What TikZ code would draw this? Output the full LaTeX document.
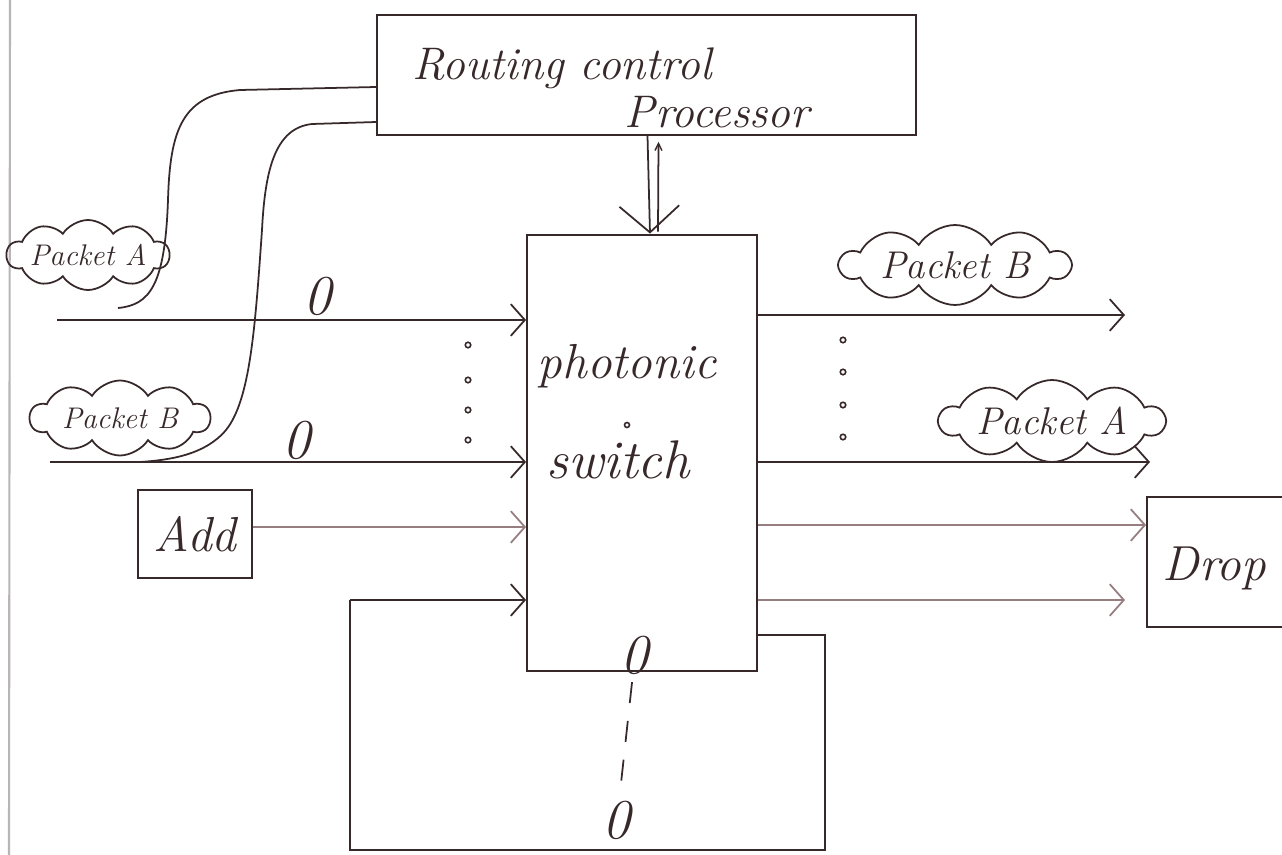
\documentclass[tikz,border=0pt]{standalone}
\usetikzlibrary{arrows.meta,shapes.symbols,calc}
\definecolor{ink}{RGB}{55,40,42}
\definecolor{faint}{RGB}{150,125,128}
\definecolor{margin}{RGB}{185,180,182}
\begin{document}
\begin{tikzpicture}[x=0.02cm,y=-0.02cm, line width=1pt, draw=ink, text=ink,
  box/.style={draw=ink, line width=1.1pt, inner sep=0pt, rectangle},
  wire/.style={draw=ink, line width=1pt},
  lightwire/.style={draw=faint, line width=1pt},
  chev/.style={-{Straight Barb[length=8pt,width=18pt,line width=1pt]}},
  bigv/.style={-{Straight Barb[length=15pt,width=34pt,line width=1pt]}},
  smallup/.style={-{Straight Barb[length=4pt,width=4pt,line width=0.8pt]}},
  puff/.style={cloud, cloud puffs=10, cloud puff arc=115, draw=ink, line width=1pt, inner sep=0pt, cloud ignores aspect},
  big/.style={font=\fontsize{28}{32}\selectfont\itshape},
  head/.style={font=\fontsize{26}{30}\selectfont\itshape, inner sep=1pt},
  mid/.style={font=\fontsize{22}{26}\selectfont\itshape},
  small/.style={font=\fontsize{17}{20}\selectfont\itshape},
  zero/.style={font=\fontsize{32}{36}\selectfont\itshape, inner sep=0pt},
  dotmark/.style={circle, draw=ink, line width=0.9pt, minimum size=0.11cm, inner sep=0pt}
]
\useasboundingbox (0,0) rectangle (1282,855);
\fill[white] (0,0) rectangle (1282,855);
% notebook margin
\draw[margin, line width=1.2pt] (10,0) -- (9,855);

% boxes
\node[box, minimum width=10.78cm, minimum height=2.4cm] (proc) at (646.5,75) {};
\node[head, anchor=base] (t1) at (562,80) {Routing control};
\node[head, anchor=base] (t2) at (717,128) {Processor};

\node[box, minimum width=4.6cm, minimum height=8.74cm] (sw) at (642,453) {};
\node[big] (t3) at (627,366) {photonic};
\node[dotmark, minimum size=0.1cm] (swdot) at (627,425) {};
\node[big, font=\fontsize{31}{34}\selectfont\itshape] (t4) at (618,460) {switch};

\node[box, minimum width=2.28cm, minimum height=1.76cm, big] (add) at (195,534) {Add};
\node[box, minimum width=4.0cm, minimum height=2.6cm] (drop) at (1247,562) {};
\node[big, anchor=west] (t5) at (1156,568) {Drop};

% clouds
\node[puff, minimum width=3.1cm, minimum height=1.4cm, small] (ca) at (88,255) {Packet A};
\node[puff, minimum width=3.6cm, minimum height=1.5cm, small] (cb) at (120,418) {Packet B};
\node[puff, minimum width=4.6cm, minimum height=1.6cm, mid] (ob) at (955,265) {Packet B};
\node[puff, minimum width=4.5cm, minimum height=1.64cm, mid] (oa) at (1052,421) {Packet A};

% zeros
\node[zero] (z1) at (318,296) {0};
\node[zero] (z2) at (297,440) {0};
\node[zero] (z3) at (635,655) {0};
\node[zero] (z4) at (617,820) {0};
\draw[wire, dash pattern=on 0.42cm off 0.36cm, shorten <=4pt, shorten >=6pt] (z3) -- (z4);

% dots
\foreach \y [count=\i] in {345,380,410,440} \node[dotmark] (ld\i) at (468,\y) {};
\foreach \y [count=\i] in {340,372,405,437} \node[dotmark] (rd\i) at (843,\y) {};

% processor <-> switch
\draw[wire, bigv] ($(proc.south)+(1,0)$) -- ($(sw.north)+(8,0)$);
\draw[wire, smallup] ($(sw.north)+(16,-2)$) -- ($(proc.south)+(12,6)$);

% control curves
\coordinate (p1) at (proc.west|-0,87);
\coordinate (p2) at (proc.west|-0,122);
\coordinate (ea) at (118,308);
\coordinate (eb) at (140,462);
\draw[wire] (p1) -- (240,90) .. controls (182,95) and (170,130) .. (168,200)
  .. controls (165,285) and (150,305) .. (ea);
\draw[wire] (p2) -- (312,124) .. controls (275,128) and (265,170) .. (262,230)
  .. controls (255,330) and (250,400) .. (226,430)
  .. controls (205,455) and (170,460) .. (eb);

% input lines
\coordinate (i1) at (57,320);
\coordinate (i2) at (50,462);
\draw[wire, chev] (i1) -- (sw.west|-i1);
\draw[wire, chev] (i2) -- (sw.west|-i2);
\draw[lightwire, chev] (add.east|-0,527) -- (sw.west|-0,527);

% feedback loop
\coordinate (l1) at (825,635);
\coordinate (l2) at (825,850);
\coordinate (l3) at (350,850);
\coordinate (l4) at (350,600);
\draw[wire] (sw.east|-l1) -- (l1) -- (l2) -- (l3) -- (l4);
\draw[wire, chev] (l4) -- (sw.west|-l4);

% output lines
\coordinate (o1) at (1125,315);
\coordinate (o2) at (1150,462);
\coordinate (o4) at (1125,600);
\draw[wire, chev] (sw.east|-o1) -- (o1);
\draw[wire, chev] (sw.east|-o2) -- (o2);
\draw[lightwire, chev] (sw.east|-0,525) -- (drop.west|-0,525);
\draw[lightwire, chev] (sw.east|-o4) -- (o4);
\end{tikzpicture}
\end{document}
